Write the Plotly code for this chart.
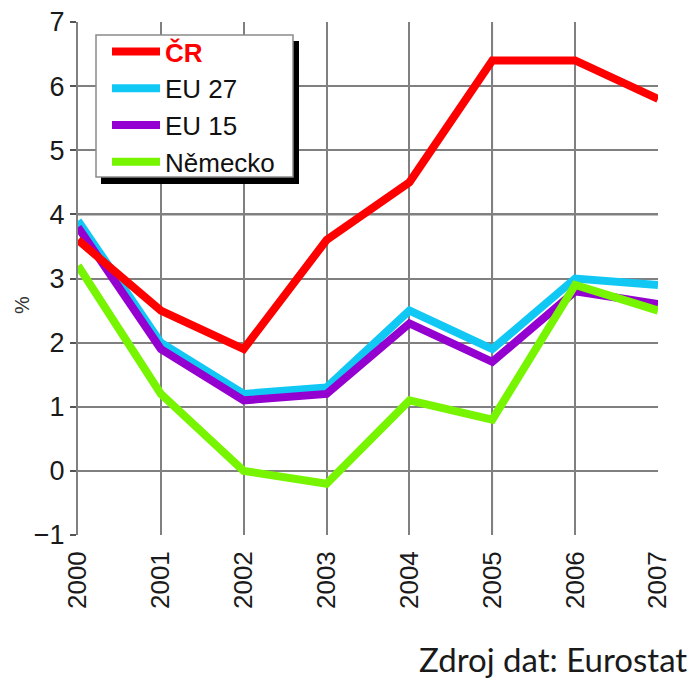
import plotly.graph_objects as go

years = [2000, 2001, 2002, 2003, 2004, 2005, 2006, 2007]
cr = [3.6, 2.5, 1.9, 3.6, 4.5, 6.4, 6.4, 5.8]
eu27 = [3.9, 2.0, 1.2, 1.3, 2.5, 1.9, 3.0, 2.9]
eu15 = [3.8, 1.9, 1.1, 1.2, 2.3, 1.7, 2.8, 2.6]
nemecko = [3.2, 1.2, 0.0, -0.2, 1.1, 0.8, 2.9, 2.5]
y_ticks = [-1, 0, 1, 2, 3, 4, 5, 6, 7]
y_tick_text = ["\u22121", "0", "1", "2", "3", "4", "5", "6", "7"]

LW = 8
fig = go.Figure()
fig.add_trace(go.Scatter(x=years, y=eu27, mode="lines", name="EU 27",
                         line=dict(color="#11c8f5", width=LW), legendrank=2))
fig.add_trace(go.Scatter(x=years, y=eu15, mode="lines", name="EU 15",
                         line=dict(color="#9400d0", width=LW), legendrank=3))
fig.add_trace(go.Scatter(x=years, y=nemecko, mode="lines", name="Německo",
                         line=dict(color="#77f500", width=LW), legendrank=4))
fig.add_trace(go.Scatter(x=years, y=cr, mode="lines",
                         name="<span style='color:#ff0000'><b>ČR</b></span>",
                         line=dict(color="#ff0000", width=LW), legendrank=1))

L, R, T, B = 78, 35, 22, 143
PW = 693 - L - R
PH = 678 - T - B

def px_x(p):
    return (p - L) / PW

def px_y(p):
    return (678 - B - p) / PH

fig.update_layout(
    width=693, height=678,
    margin=dict(l=L, r=R, t=T, b=B, autoexpand=False),
    paper_bgcolor="white", plot_bgcolor="white",
    font=dict(family="Liberation Sans, Arial, sans-serif", color="#1a1a1a", size=26),
    showlegend=True,
    legend=dict(
        x=px_x(107), y=px_y(28), xanchor="left", yanchor="top",
        bgcolor="rgba(0,0,0,0)", borderwidth=0,
        font=dict(size=26, color="#111111"),
        itemwidth=48, tracegroupgap=0,
    ),
    xaxis=dict(
        range=[2000, 2007], tickmode="array", tickvals=years,
        ticktext=[str(y) for y in years], tickangle=-90, automargin=False,
        showgrid=True, gridcolor="#808080", gridwidth=2,
        zeroline=False, showline=False, ticks="", ticklabelstandoff=10,
        tickfont=dict(size=26),
    ),
    yaxis=dict(
        range=[-1, 7], tickmode="array", tickvals=y_ticks, ticktext=y_tick_text,
        automargin=False,
        showgrid=True, gridcolor="#808080", gridwidth=2,
        zeroline=False, showline=True, linecolor="#808080", linewidth=2,
        ticks="outside", ticklen=6, tickcolor="#555555", tickwidth=1.5,
        tickfont=dict(size=27),
    ),
    shapes=[
        dict(type="line", xref="x", yref="paper", x0=2005, x1=2005, y0=0, y1=1,
             line=dict(color="#000000", width=1.5), layer="below"),
        dict(type="line", xref="paper", yref="y", x0=0, x1=1, y0=4, y1=4,
             line=dict(color="#000000", width=1.5), layer="below"),
        # legend shadow
        dict(type="rect", xref="paper", yref="paper",
             x0=px_x(101), x1=px_x(299), y0=px_y(184), y1=px_y(41),
             fillcolor="#000000", line=dict(width=0), layer="above"),
        # legend box
        dict(type="rect", xref="paper", yref="paper",
             x0=px_x(96), x1=px_x(293), y0=px_y(177), y1=px_y(35),
             fillcolor="#ffffff", line=dict(color="#8a8a8a", width=1.5), layer="above"),
    ],
    annotations=[
        dict(text="%", xref="paper", yref="paper", x=px_x(22), y=px_y(305),
             xanchor="center", yanchor="middle", textangle=-90, showarrow=False,
             font=dict(size=20, color="#333333")),
        dict(text="Zdroj dat: Eurostat", xref="paper", yref="paper",
             x=px_x(689), y=px_y(659), xanchor="right", yanchor="middle",
             showarrow=False, font=dict(family="Lato, Open Sans, sans-serif",
                                        size=33, color="#1a1a1a")),
    ],
)

fig.write_html("out.html", config={"displayModeBar": False})
with open("out.html", "r", encoding="utf-8") as f:
    html = f.read()
html = html.replace("<head>", "<head><style>html,body{margin:0;padding:0;overflow:hidden}</style>", 1)
with open("out.html", "w", encoding="utf-8") as f:
    f.write(html)
